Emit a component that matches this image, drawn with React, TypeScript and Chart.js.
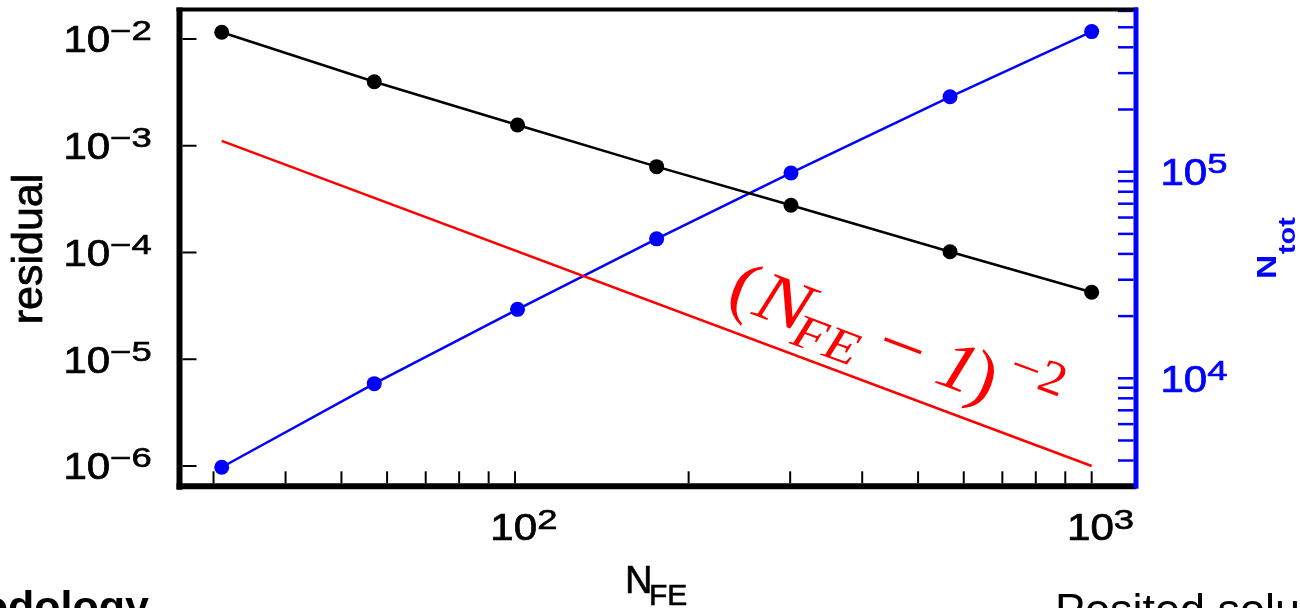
import React, { useEffect, useRef } from "react";
import { Chart, registerables } from "chart.js";

Chart.register(...registerables);

// ---- data ----
const nFE = [31, 57, 101, 176, 301, 568, 1000];
const residual = [1.156e-2, 3.98e-3, 1.565e-3, 6.37e-4, 2.77e-4, 1.017e-4, 4.24e-5];
const nTot = [3710, 9420, 21560, 47300, 98560, 230500, 476600];
const refN = [31, 1000];
const refResidual = [1.11e-3, 1.0e-6];

// ---- axis limits and ticks ----
const xMin = 26.19;
const xMax = 1193.6;
const yMin = 6.452e-7;
const yMax = 0.01889;
const y1Min = 3001;
const y1Max = 6.096e5;

const xTickValues = [30, 40, 50, 60, 70, 80, 90, 100, 200, 300, 400, 500, 600, 700, 800, 900, 1000];
const xLabelExps = [2, 3];
const leftExps = [-2, -3, -4, -5, -6];
const rightTickValues = [
  4000, 5000, 6000, 7000, 8000, 9000,
  10000, 20000, 30000, 40000, 50000, 60000, 70000, 80000, 90000,
  100000, 200000, 300000, 400000, 500000, 600000,
];
const rightExps = [4, 5];

const SANS = '"Liberation Sans", Arial, Helvetica, sans-serif';
const SERIF = '"Liberation Serif", "Times New Roman", serif';
const BLUE = "#0000ff";
const RED = "#ff0000";

function expText(e: number) {
  return e < 0 ? "\u2212" + String(-e) : String(e);
}

function fillBold(ctx: CanvasRenderingContext2D, t: string, x: number, y: number, w: number) {
  ctx.fillText(t, x, y);
  if (w > 0) {
    ctx.lineWidth = w;
    ctx.strokeText(t, x, y);
  }
}

// draws "10" followed by a superscript exponent; x is the left of "10"
function drawPow(ctx: CanvasRenderingContext2D, x: number, baseMain: number, baseSup: number, e: number, color: string) {
  const mainF = 36, supF = 27, sxMain = 1.17, sxSup = 1.35;
  ctx.save();
  ctx.fillStyle = color;
  ctx.strokeStyle = color;
  ctx.textAlign = "left";
  ctx.textBaseline = "alphabetic";
  ctx.font = `${mainF}px ${SANS}`;
  const wMain = ctx.measureText("10").width * sxMain;
  ctx.save();
  ctx.translate(x, baseMain);
  ctx.scale(sxMain, 1);
  fillBold(ctx, "10", 0, 0, 0.7);
  ctx.restore();
  ctx.font = `${supF}px ${SANS}`;
  ctx.save();
  ctx.translate(x + wMain, baseSup);
  ctx.scale(sxSup, 1);
  fillBold(ctx, expText(e), 0, 0, 0.6);
  ctx.restore();
  ctx.restore();
}

const decorPlugin = {
  id: "decor",
  afterDraw(chart: any) {
    const ctx: CanvasRenderingContext2D = chart.ctx;
    const { left, right, top, bottom } = chart.chartArea;
    const xs = chart.scales.x;
    const yl = chart.scales.y;
    const yr = chart.scales.y1;

    ctx.save();
    ctx.lineCap = "butt";

    // ticks: bottom
    ctx.strokeStyle = "#000";
    ctx.lineWidth = 2;
    for (const v of xTickValues) {
      const px = xs.getPixelForValue(v);
      ctx.beginPath();
      ctx.moveTo(px, bottom - 3);
      ctx.lineTo(px, bottom - 15);
      ctx.stroke();
    }
    // ticks: left
    for (const e of leftExps) {
      const py = yl.getPixelForValue(Math.pow(10, e));
      ctx.beginPath();
      ctx.moveTo(left + 3, py);
      ctx.lineTo(left + 17, py);
      ctx.stroke();
    }
    // ticks: right (blue)
    ctx.strokeStyle = BLUE;
    ctx.lineWidth = 2.5;
    for (const v of rightTickValues) {
      if (v < y1Min || v > y1Max) continue;
      const py = yr.getPixelForValue(v);
      ctx.beginPath();
      ctx.moveTo(right - 2.5, py);
      ctx.lineTo(right - 18, py);
      ctx.stroke();
    }

    // frame
    ctx.strokeStyle = "#000";
    ctx.lineWidth = 4;
    ctx.beginPath();
    ctx.moveTo(left - 3, top);
    ctx.lineTo(right + 2, top);
    ctx.stroke();
    ctx.lineWidth = 6;
    ctx.beginPath();
    ctx.moveTo(left, top - 2);
    ctx.lineTo(left, bottom + 3.5);
    ctx.stroke();
    ctx.beginPath();
    ctx.moveTo(left - 3, bottom);
    ctx.lineTo(right, bottom);
    ctx.stroke();
    ctx.strokeStyle = BLUE;
    ctx.lineWidth = 5;
    ctx.beginPath();
    ctx.moveTo(right, top - 2);
    ctx.lineTo(right, bottom + 2.5);
    ctx.stroke();

    // tick labels
    for (const e of leftExps) {
      const py = yl.getPixelForValue(Math.pow(10, e));
      drawPow(ctx, 63.4, py + 13.5, py + 1.5, e, "#000");
    }
    for (const e of rightExps) {
      const py = yr.getPixelForValue(Math.pow(10, e));
      drawPow(ctx, 1160.4, py + 13.5, py + 1.5, e, BLUE);
    }
    for (const e of xLabelExps) {
      const px = xs.getPixelForValue(Math.pow(10, e));
      drawPow(ctx, px - 24.7, 540, 529, e, "#000");
    }

    // axis titles
    ctx.fillStyle = "#000";
    ctx.strokeStyle = "#000";
    ctx.textBaseline = "alphabetic";
    ctx.textAlign = "left";
    ctx.font = `38px ${SANS}`;
    fillBold(ctx, "N", 625, 593, 0.6);
    ctx.font = `30px ${SANS}`;
    fillBold(ctx, "FE", 649, 605, 0.6);

    ctx.save();
    ctx.translate(42, 249);
    ctx.rotate(-Math.PI / 2);
    ctx.textAlign = "center";
    ctx.font = `43px ${SANS}`;
    fillBold(ctx, "residual", 0, 0, 0.8);
    ctx.restore();

    ctx.save();
    ctx.fillStyle = BLUE;
    ctx.translate(1276, 279);
    ctx.rotate(-Math.PI / 2);
    ctx.textAlign = "left";
    ctx.save();
    ctx.scale(1.2, 1.0);
    ctx.font = `bold 28px ${SANS}`;
    ctx.fillText("N", 0, 0);
    ctx.restore();
    ctx.save();
    ctx.translate(25, 19);
    ctx.scale(1.2, 1.0);
    ctx.font = `bold 24px ${SANS}`;
    ctx.fillText("tot", 0, 0);
    ctx.restore();
    ctx.restore();

    // red annotation along the reference line
    const p1x = xs.getPixelForValue(refN[0]);
    const p1y = yl.getPixelForValue(refResidual[0]);
    const p2x = xs.getPixelForValue(refN[1]);
    const p2y = yl.getPixelForValue(refResidual[1]);
    const ang = Math.atan2(p2y - p1y, p2x - p1x);
    ctx.save();
    ctx.fillStyle = RED;
    ctx.translate(730, 306);
    ctx.rotate(ang);
    ctx.textAlign = "left";
    const pieces = [
      { t: "(", u: -6, v: 0, f: `70px ${SERIF}`, sx: 1.1 },
      { t: "N", u: 22, v: 0, f: `italic 70px ${SERIF}`, sx: 1.18 },
      { t: "FE", u: 68, v: 14, f: `italic 48px ${SERIF}`, sx: 1.15 },
      { t: "\u2212", u: 152, v: 0, f: `70px ${SERIF}`, sx: 1.2 },
      { t: "1", u: 216, v: 0, f: `italic 70px ${SERIF}`, sx: 1.1 },
      { t: ")", u: 250, v: 0, f: `70px ${SERIF}`, sx: 1.1 },
      { t: "\u22122", u: 284, v: -30, f: `48px ${SERIF}`, sx: 1.12 },
    ];
    for (const p of pieces) {
      ctx.font = p.f;
      ctx.save();
      ctx.translate(p.u, p.v);
      ctx.scale(p.sx, 1);
      ctx.fillText(p.t, 0, 0);
      ctx.restore();
    }
    ctx.restore();

    // cut-off surrounding page text
    ctx.fillStyle = "#000";
    ctx.textAlign = "right";
    ctx.font = `bold 43px ${SANS}`;
    ctx.fillText("Methodology", 149, 621);
    ctx.textAlign = "left";
    ctx.font = `45px ${SANS}`;
    ctx.fillText("Posited solution", 1055, 625);

    ctx.restore();
  },
};

export default function App() {
  const ref = useRef<HTMLCanvasElement | null>(null);

  useEffect(() => {
    const canvas = ref.current;
    if (!canvas) return;
    const chart = new Chart(canvas, {
      type: "line",
      data: {
        datasets: [
          {
            label: "residual",
            data: nFE.map((x, i) => ({ x, y: residual[i] })),
            borderColor: "#000",
            backgroundColor: "#000",
            borderWidth: 2.5,
            pointRadius: 7.5,
            pointHoverRadius: 7.5,
            pointBorderWidth: 0,
            yAxisID: "y",
            order: 1,
            clip: false,
          },
          {
            label: "(N_FE - 1)^-2",
            data: refN.map((x, i) => ({ x, y: refResidual[i] })),
            borderColor: RED,
            backgroundColor: RED,
            borderWidth: 2.5,
            pointRadius: 0,
            pointHoverRadius: 0,
            yAxisID: "y",
            order: 2,
            clip: false,
          },
          {
            label: "N_tot",
            data: nFE.map((x, i) => ({ x, y: nTot[i] })),
            borderColor: BLUE,
            backgroundColor: BLUE,
            borderWidth: 2.5,
            pointRadius: 7.5,
            pointHoverRadius: 7.5,
            pointBorderWidth: 0,
            yAxisID: "y1",
            order: 3,
            clip: false,
          },
        ],
      } as any,
      options: {
        animation: false,
        responsive: false,
        events: [],
        layout: { padding: { left: 179.5, right: 164, top: 9.5, bottom: 121.7 } },
        plugins: { legend: { display: false }, tooltip: { enabled: false } },
        scales: {
          x: { type: "logarithmic", min: xMin, max: xMax, bounds: "data", display: false },
          y: { type: "logarithmic", min: yMin, max: yMax, bounds: "data", display: false },
          y1: { type: "logarithmic", min: y1Min, max: y1Max, bounds: "data", display: false, position: "right" },
        },
      } as any,
      plugins: [decorPlugin],
    });
    return () => chart.destroy();
  }, []);

  return (
    <div style={{ position: "absolute", left: 0, top: 0, width: 1300, height: 608, background: "#fff", overflow: "hidden" }}>
      <canvas ref={ref} width={1300} height={608} style={{ display: "block" }} />
    </div>
  );
}
